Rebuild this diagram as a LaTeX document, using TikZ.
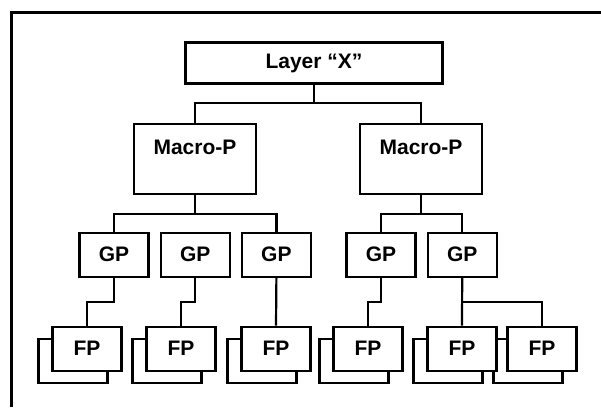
\documentclass[tikz,border=0pt]{standalone}
\usepackage{fontspec}
\setmainfont{Liberation Sans}
\usetikzlibrary{positioning,backgrounds}

\begin{document}
\begin{tikzpicture}[
	x=1pt, y=-1pt,
	font=\bfseries\fontsize{21}{25}\selectfont,
	node distance=10pt,
	box/.style={rectangle, draw=black, fill=white, line width=2.2pt, inner sep=0pt, align=center},
	layerbox/.style={box, minimum width=257pt, minimum height=41pt},
	macro/.style={box, minimum width=122pt, text height=30pt, text depth=40pt},
	gpbox/.style={box, minimum width=69pt, minimum height=44pt},
	fpbox/.style={box, minimum width=69pt, minimum height=44pt},
	link/.style={draw=black, line width=2.2pt}
]
\useasboundingbox (0,0) rectangle (601,407);

% --- Outer frame ---
\draw[line width=3pt] (11.3,407) |- (601,12);

% --- Layer and macro blocks ---
\node[layerbox] (layer) at (314,63) {Layer ``X''};
\node[macro] (macroL) at (195,159) {Macro-P};
\node[macro] (macroR) at (421,159) {Macro-P};

% --- GP row ---
\node[gpbox] (gp1) at (114,254.7) {GP};
\node[gpbox, right=of gp1] (gp2) {GP};
\node[gpbox, right=of gp2] (gp3) {GP};
\node[gpbox] (gp4) at (381,254.7) {GP};
\node[gpbox, right=of gp4] (gp5) {GP};

% --- FP row (stacked) ---
\foreach \n/\x in {1/87, 2/181, 3/276, 4/368, 5/462, 6/542}
  \node[fpbox] (fp\n) at (\x,348.7) {FP};

\begin{scope}[on background layer]
  \foreach \n in {1,...,6}
    \node[fpbox] (fpb\n) at ([shift={(-14,12.5)}]fp\n.center) {};
\end{scope}

% --- Links ---
\draw[link] (layer.south) -- ++(0,18.7) coordinate (j0);
\draw[link] (macroL.north) |- (j0) -| (macroR.north);
\draw[link] (macroL.south) -- ++(0,18.7) coordinate (j1);
\draw[link] (gp1.north) |- (j1) -| (gp3.north);
\draw[link] (macroR.south) -- ++(0,18.7) coordinate (j2);
\draw[link] (gp4.north) |- (j2) -| (gp5.north);

\foreach \g/\f in {gp1/fp1, gp2/fp2, gp4/fp4}
  \draw[link] (\g.south) -- ++(0,24) -| (\f.north);
\draw[link] (gp3.south) -- (fp3.north);
\draw[link] (gp5.south) -- (fp5.north);
\draw[link] (gp5.south) ++(0,24) -| (fp6.north);

\end{tikzpicture}
\end{document}
